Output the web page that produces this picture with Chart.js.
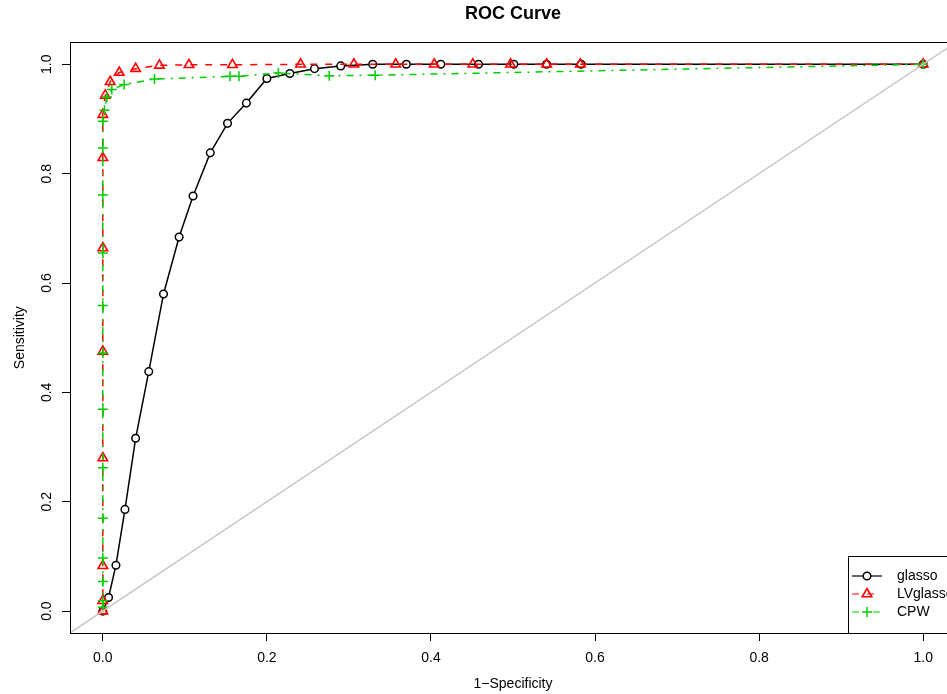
<!DOCTYPE html>
<html>
<head>
<meta charset="utf-8">
<script src="https://cdn.jsdelivr.net/npm/chart.js@4.4.0/dist/chart.umd.min.js"></script>
<style>
  html, body { margin: 0; padding: 0; background: #fff; overflow: hidden; }
  canvas { display: block; }
</style>
</head>
<body>
<canvas id="rocChart" width="1000" height="694"></canvas>
<script>
// values (1-specificity, sensitivity)
var glassoFpr = [0, 0.007, 0.016, 0.027, 0.040, 0.056, 0.074, 0.093, 0.110, 0.131, 0.152, 0.175, 0.200, 0.228, 0.258, 0.290, 0.329, 0.370, 0.412, 0.458, 0.501, 0.541, 0.583, 1.0];
var glassoTpr = [0, 0.025, 0.084, 0.186, 0.316, 0.438, 0.580, 0.684, 0.759, 0.838, 0.892, 0.929, 0.974, 0.983, 0.992, 0.997, 1, 1, 1, 1, 1, 1, 1, 1];

var lvFpr = [0, 0, 0, 0, 0, 0, 0, 0, 0.003, 0.009, 0.020, 0.040, 0.069, 0.105, 0.158, 0.241, 0.306, 0.357, 0.404, 0.451, 0.497, 0.541, 0.582, 1.0];
var lvTpr = [0, 0.019, 0.083, 0.280, 0.475, 0.664, 0.829, 0.908, 0.943, 0.968, 0.985, 0.992, 0.998, 0.999, 0.999, 1, 1, 1, 1, 1, 1, 1, 1, 1];

var cpwFpr = [0, 0, 0, 0, 0, 0, 0, 0, 0, 0, 0, 0, 0, 0.002, 0.005, 0.011, 0.026, 0.063, 0.155, 0.166, 0.214, 0.276, 0.332, 1.0];
var cpwTpr = [0.007, 0.019, 0.054, 0.097, 0.170, 0.262, 0.369, 0.472, 0.559, 0.655, 0.761, 0.847, 0.896, 0.916, 0.940, 0.954, 0.963, 0.973, 0.978, 0.978, 0.984, 0.979, 0.980, 1.0];

var axisTicks = [0, 0.2, 0.4, 0.6, 0.8, 1.0];
var axisLimits = [-0.04, 1.04];
var seriesNames = ['glasso', 'LVglasso', 'CPW'];

function toPoints(xs, ys) {
    return xs.map(function(x, i) { return {x: x, y: ys[i]}; });
}

var FONT = "'Liberation Sans', Arial, sans-serif";

// R style box() around the plot region
var boxPlugin = {
    id: 'plotBox',
    afterDraw: function(chart) {
        var a = chart.chartArea, ctx = chart.ctx;
        ctx.save();
        ctx.strokeStyle = '#000';
        ctx.lineWidth = 1;
        ctx.strokeRect(Math.round(a.left) + 0.5, Math.round(a.top) + 0.5,
            Math.round(a.right - a.left), Math.round(a.bottom - a.top));
        ctx.restore();
    }
};

// legend in the bottom right corner like legend("bottomright", ...)
var rLegend = {
    id: 'rLegend',
    afterDraw: function(chart) {
        var a = chart.chartArea, ctx = chart.ctx;
        var w = 108, h = 77;
        var left = Math.round(a.right - w), top = Math.round(a.bottom - h);
        ctx.save();
        ctx.fillStyle = '#fff';
        ctx.fillRect(left, top, w, h);
        ctx.strokeStyle = '#000';
        ctx.lineWidth = 1;
        ctx.strokeRect(left + 0.5, top + 0.5, w, h);
        ctx.font = '14px ' + FONT;
        ctx.textBaseline = 'middle';
        ctx.textAlign = 'left';
        chart.data.datasets.forEach(function(ds) {
            if (!seriesNames.includes(ds.label)) return;
            var k = seriesNames.indexOf(ds.label);
            var y = top + 20 + k * 18;
            ctx.strokeStyle = ds.borderColor;
            ctx.lineWidth = 1.2;
            ctx.setLineDash(ds.borderDash || []);
            ctx.beginPath();
            ctx.moveTo(left + 4, y);
            ctx.lineTo(left + 34, y);
            ctx.stroke();
            ctx.setLineDash([]);
            ctx.fillStyle = ds.pointBackgroundColor;
            ctx.lineWidth = ds.pointBorderWidth;
            Chart.helpers.drawPoint(ctx, {
                pointStyle: ds.pointStyle,
                radius: ds.pointRadius,
                borderWidth: ds.pointBorderWidth
            }, left + 19, y);
            ctx.fillStyle = '#000';
            ctx.fillText(ds.label, left + 49, y);
        });
        ctx.restore();
    }
};

var ctx = document.getElementById('rocChart').getContext('2d');
var rocChart = new Chart(ctx, {
    type: 'scatter',
    data: {
        datasets: [{
            label: 'diagonal',
            data: toPoints(axisLimits, axisLimits),
            showLine: true,
            borderColor: '#c8c8c8',
            borderWidth: 1.5,
            pointRadius: 0,
            order: 0
        }, {
            label: 'CPW',
            data: toPoints(cpwFpr, cpwTpr),
            showLine: true,
            borderColor: '#00cd00',
            borderWidth: 1.5,
            borderDash: [7, 6, 2, 6],
            pointStyle: 'cross',
            pointRadius: 5,
            pointBorderWidth: 1.5,
            pointBorderColor: '#00cd00',
            pointBackgroundColor: 'rgba(0,0,0,0)',
            order: 1
        }, {
            label: 'LVglasso',
            data: toPoints(lvFpr, lvTpr),
            showLine: true,
            borderColor: '#ff0000',
            borderWidth: 1.5,
            borderDash: [7, 8],
            pointStyle: 'triangle',
            pointRadius: 5.5,
            pointBorderWidth: 1.6,
            pointBorderColor: '#ff0000',
            pointBackgroundColor: 'rgba(0,0,0,0)',
            order: 2
        }, {
            label: 'glasso',
            data: toPoints(glassoFpr, glassoTpr),
            showLine: true,
            borderColor: '#000000',
            borderWidth: 1.5,
            pointStyle: 'circle',
            pointRadius: 3.8,
            pointBorderWidth: 1.5,
            pointBorderColor: '#000000',
            pointBackgroundColor: '#ffffff',
            order: 3
        }]
    },
    options: {
        responsive: false,
        animation: false,
        devicePixelRatio: 1,
        layout: {
            padding: { left: 0, right: 44, top: 0, bottom: 0 }
        },
        plugins: {
            legend: { display: false },
            tooltip: { enabled: false },
            title: {
                display: true,
                text: 'ROC Curve',
                fullSize: false,
                color: '#000',
                font: { family: FONT, size: 18, weight: 'bold' },
                padding: { top: 3, bottom: 17.8 }
            }
        },
        scales: {
            x: {
                type: 'linear',
                min: axisLimits[0],
                max: axisLimits[1],
                afterBuildTicks: function(scale) {
                    scale.ticks = axisTicks.map(function(v) { return {value: v}; });
                },
                afterFit: function(scale) { scale.height = 61; },
                border: { display: false },
                grid: { drawOnChartArea: false, drawTicks: true, tickLength: 8, color: '#000' },
                ticks: {
                    color: '#000',
                    padding: 9,
                    maxRotation: 0,
                    font: { family: FONT, size: 14 },
                    callback: function(v) { return v.toFixed(1); }
                },
                title: {
                    display: true,
                    text: '1\u2212Specificity',
                    color: '#000',
                    font: { family: FONT, size: 14 },
                    padding: { top: 0, bottom: 1 }
                }
            },
            y: {
                type: 'linear',
                min: axisLimits[0],
                max: axisLimits[1],
                afterBuildTicks: function(scale) {
                    scale.ticks = axisTicks.map(function(v) { return {value: v}; });
                },
                afterFit: function(scale) { scale.width = 70; },
                border: { display: false },
                grid: { drawOnChartArea: false, drawTicks: true, tickLength: 8, color: '#000' },
                ticks: {
                    color: '#000',
                    padding: 5,
                    minRotation: 90,
                    maxRotation: 90,
                    crossAlign: 'center',
                    font: { family: FONT, size: 14 },
                    callback: function(v) { return v.toFixed(1); }
                },
                title: {
                    display: true,
                    text: 'Sensitivity',
                    color: '#000',
                    font: { family: FONT, size: 14 },
                    padding: { top: 12, bottom: 0 }
                }
            }
        }
    },
    plugins: [boxPlugin, rLegend]
});
</script>
</body>
</html>
